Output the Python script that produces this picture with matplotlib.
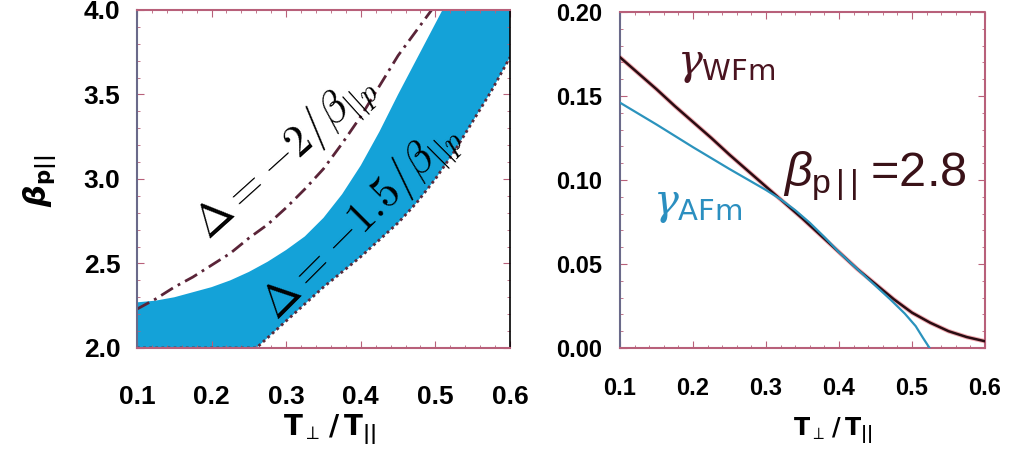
import matplotlib.pyplot as plt
import numpy as np

plt.rcParams['font.family'] = ['Liberation Sans', 'DejaVu Sans']
plt.rcParams['mathtext.fontset'] = 'custom'
plt.rcParams['mathtext.rm'] = 'Liberation Sans'
plt.rcParams['mathtext.it'] = 'Liberation Sans:italic'
plt.rcParams['mathtext.bf'] = 'Liberation Sans:bold'
plt.rcParams['mathtext.sf'] = 'Liberation Sans'

# left panel: stability boundaries in (T_perp/T_par, beta_par) plane
dashdot_x = [0.1, 0.125, 0.15, 0.175, 0.2, 0.225, 0.25, 0.275, 0.3, 0.325, 0.35,
             0.375, 0.4, 0.425, 0.45, 0.475, 0.5]
dashdot_beta = [2.23, 2.29, 2.36, 2.42, 2.49, 2.56, 2.65, 2.73, 2.83, 2.94, 3.06,
                3.21, 3.37, 3.55, 3.73, 3.88, 4.03]

band_top_x = [0.1, 0.125, 0.15, 0.175, 0.2, 0.225, 0.25, 0.275, 0.3, 0.325, 0.35,
              0.375, 0.4, 0.425, 0.45, 0.475, 0.5, 0.525, 0.55, 0.6]
band_top_beta = [2.27, 2.28, 2.30, 2.33, 2.36, 2.40, 2.45, 2.51, 2.58, 2.66, 2.77,
                 2.91, 3.08, 3.28, 3.50, 3.71, 3.92, 4.13, 4.35, 4.8]

band_low_x = [0.1, 0.26, 0.275, 0.3, 0.325, 0.35, 0.375, 0.4, 0.425, 0.45, 0.475,
              0.5, 0.525, 0.55, 0.575, 0.6]
band_low_beta = [2.0, 2.0, 2.06, 2.16, 2.26, 2.36, 2.45, 2.54, 2.64, 2.74, 2.86,
                 3.0, 3.16, 3.34, 3.52, 3.72]

left_xticks = [0.1, 0.2, 0.3, 0.4, 0.5, 0.6]
left_yticks = [2.0, 2.5, 3.0, 3.5, 4.0]

# right panel: growth rates at beta_par = 2.8
wfm_x = [0.1, 0.125, 0.15, 0.175, 0.2, 0.225, 0.25, 0.275, 0.3, 0.325, 0.35,
         0.375, 0.4, 0.425, 0.45, 0.475, 0.5, 0.525, 0.55, 0.575, 0.6]
wfm_gamma = [0.173, 0.1635, 0.154, 0.144, 0.1345, 0.125, 0.115, 0.1055, 0.096, 0.0865, 0.077,
             0.067, 0.057, 0.047, 0.038, 0.029, 0.021, 0.015, 0.010, 0.0065, 0.004]

afm_x = [0.1, 0.15, 0.2, 0.25, 0.3, 0.32, 0.34, 0.36, 0.38, 0.4, 0.425, 0.45,
         0.47, 0.49, 0.505, 0.515, 0.524]
afm_gamma = [0.146, 0.133, 0.1195, 0.1065, 0.094, 0.0885, 0.082, 0.0745, 0.066, 0.057, 0.047, 0.037,
             0.029, 0.0205, 0.013, 0.006, 0.0]

right_xticks = [0.1, 0.2, 0.3, 0.4, 0.5, 0.6]
right_yticks = [0.0, 0.05, 0.10, 0.15, 0.20]

fig = plt.figure(figsize=(10.23, 4.62), dpi=100)
ax1 = fig.add_axes([0.1339, 0.2468, 0.3646, 0.7316])
ax2 = fig.add_axes([0.6061, 0.2468, 0.3568, 0.7273])

blue = '#14a2d8'
dotred = '#b8607a'

# band polygon: top edge left->right, lower edge right->left
poly_x = band_top_x + band_low_x[::-1]
poly_y = band_top_beta + band_low_beta[::-1]
ax1.fill(poly_x, poly_y, color=blue, lw=0, zorder=1)
ax1.plot(band_low_x, band_low_beta, color='#5a2a3a', lw=2, ls=(0, (1, 1.2)), zorder=2)
ax1.plot(dashdot_x, dashdot_beta, color='#5a2438', lw=2, ls=(0, (5, 2, 1, 2)), zorder=2)

ax1.text(0.30, 3.13, r'$\Delta=-2/\beta_{||p}$', math_fontfamily='cm', fontsize=32,
         rotation=42, rotation_mode='anchor', ha='center', va='center', color='black')
ax1.text(0.401, 2.745, r'$\Delta=-1.5/\beta_{||p}$', math_fontfamily='cm', fontsize=32,
         rotation=45, rotation_mode='anchor', ha='center', va='center', color='black')

ax1.set_xlim(0.1, 0.6)
ax1.set_ylim(2.0, 4.0)
ax1.set_xticks(left_xticks)
ax1.set_yticks(left_yticks)
ax1.set_xticklabels(['%.1f' % v for v in left_xticks], fontsize=19, fontweight='bold')
ax1.set_yticklabels(['%.1f' % v for v in left_yticks], fontsize=19, fontweight='bold')
ax1.tick_params(axis='x', pad=27)
ax1.tick_params(axis='y', pad=12)

# right panel
ax2.plot(wfm_x, wfm_gamma, color='#e04050', lw=3.2, alpha=0.45, zorder=2)
ax2.plot(wfm_x, wfm_gamma, color='#2a0c12', lw=1.8, zorder=3)
ax2.plot(afm_x, afm_gamma, color='#2b93bd', lw=1.6, zorder=4)

ax2.text(0.178, 0.163, r'$\gamma_{\mathsf{WFm}}$', math_fontfamily='dejavuserif', fontsize=30, color='#4a1420')
ax2.text(0.145, 0.080, r'$\gamma_{\mathsf{AFm}}$', math_fontfamily='dejavuserif', fontsize=30, color='#2b8fc0')
ax2.text(0.323, 0.096, r'$\beta_{\mathrm{p\,|\,|}}\;$=2.8', fontsize=35, color='#3a1218')

ax2.set_xlim(0.1, 0.6)
ax2.set_ylim(0.0, 0.2)
ax2.set_xticks(right_xticks)
ax2.set_yticks(right_yticks)
ax2.set_xticklabels(['%.1f' % v for v in right_xticks], fontsize=17, fontweight='bold')
ax2.set_yticklabels(['%.2f' % v for v in right_yticks], fontsize=17, fontweight='bold')
ax2.tick_params(axis='x', pad=21)
ax2.tick_params(axis='y', pad=13)

for ax in (ax1, ax2):
    ax.minorticks_on()
    ax.tick_params(which='both', direction='in', top=True, right=True, color=dotred)
    ax.tick_params(which='major', length=5)
    ax.tick_params(which='minor', length=2.5)
    for side in ('top', 'bottom', 'right', 'left'):
        ax.spines[side].set_color(dotred)
        ax.spines[side].set_linestyle((0, (1, 1)))
        ax.spines[side].set_linewidth(1.5)
    ax.spines['left'].set_color('#6a6a8a')
ax1.spines['right'].set_color('black')
ax1.spines['right'].set_linestyle('-')
ax1.spines['right'].set_linewidth(1.2)

xlab = r'$\mathbf{T}_{\perp}\,\mathbf{/}\,\mathbf{T}_{\mathbf{||}}$'
fig.text(40 / 1023, 1 - 181 / 462, r'$\boldsymbol{\beta}_{\mathbf{p||}}$', rotation=90, ha='center', va='center',
         fontsize=22, math_fontfamily='dejavusans')
fig.text(330 / 1023, 1 - 430 / 462, xlab, ha='center', va='center', fontsize=20, math_fontfamily='dejavusans')
fig.text(833 / 1023, 1 - 430 / 462, xlab, ha='center', va='center', fontsize=17, math_fontfamily='dejavusans')

fig.savefig('out.png', dpi=100, facecolor='white')
